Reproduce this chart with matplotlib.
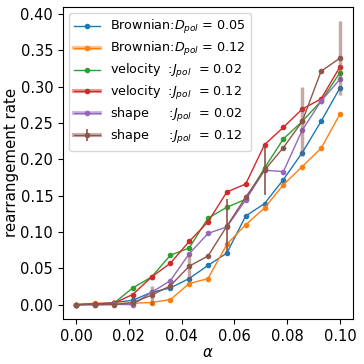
import numpy as np
import matplotlib
matplotlib.use("Agg")
import matplotlib.pyplot as plt
from matplotlib.lines import Line2D
from matplotlib.legend_handler import HandlerTuple

alpha_vals = np.linspace(0, 0.1, 15)

brownian_005 = [0.0, 0.001, 0.003, 0.006, 0.017, 0.023, 0.036, 0.054, 0.071,
                0.122, 0.139, 0.172, 0.209, 0.252, 0.298]
brownian_012 = [0.0, 0.002, 0.002, 0.002, 0.003, 0.007, 0.029, 0.036, 0.083,
                0.110, 0.133, 0.165, 0.190, 0.215, 0.262]
velocity_002 = [0.0, 0.001, 0.002, 0.023, 0.038, 0.068, 0.078, 0.119, 0.134,
                0.145, 0.188, 0.228, 0.252, 0.280, 0.319]
velocity_012 = [0.0, 0.001, 0.002, 0.014, 0.038, 0.057, 0.087, 0.114, 0.155,
                0.166, 0.220, 0.244, 0.269, 0.283, 0.327]
shape_002 = [0.0, 0.0, 0.0005, 0.0, 0.017, 0.033, 0.070, 0.098, 0.107,
             0.144, 0.185, 0.183, 0.240, 0.280, 0.310]
shape_012 = [0.0, 0.0, 0.0, 0.003, 0.013, 0.026, 0.053, 0.067, 0.108,
             0.148, 0.185, 0.216, 0.252, 0.321, 0.339]
# écarts-types de shape 0.12 (barres claires / barres foncées)
shape_012_err_light = [0.0, 0.0, 0.0, 0.0, 0.013, 0.0, 0.017, 0.0, 0.0,
                       0.0, 0.0, 0.0, 0.048, 0.0, 0.051]
shape_012_err_dark = [0.0, 0.0, 0.0, 0.0, 0.0, 0.0, 0.0, 0.0, 0.037,
                      0.0, 0.034, 0.0, 0.0, 0.0, 0.0]

labels = [r"Brownian:$D_{pol}$ = 0.05",
          r"Brownian:$D_{pol}$ = 0.12",
          r"velocity  :$J_{pol}$  = 0.02",
          r"velocity  :$J_{pol}$  = 0.12",
          r"shape     :$J_{pol}$  = 0.02",
          r"shape     :$J_{pol}$  = 0.12"]
series = [brownian_005, brownian_012, velocity_002, velocity_012, shape_002]
colors = ["C0", "C1", "C2", "C3", "C4", "C5"]
heavy = [False, True, False, True, True, True]

fig = plt.figure(figsize=(3.64, 3.64), dpi=100)
ax = fig.add_axes([0.173, 0.124, 0.797, 0.857])

handles = []
for y, c, h in zip(series, colors, heavy):
    ax.plot(alpha_vals, y, ".-", color=c, lw=1, ms=6)
    marker = Line2D([], [], color=c, lw=1, marker=".", ms=6)
    if h:
        handles.append((Line2D([], [], color=c, lw=3, alpha=0.45), marker))
    else:
        handles.append(marker)

ax.errorbar(alpha_vals, shape_012, yerr=shape_012_err_light, fmt=".-",
            color="C5", lw=1, ms=6, ecolor=(0.55, 0.34, 0.29, 0.5), elinewidth=2.5)
ax.errorbar(alpha_vals, shape_012, yerr=shape_012_err_dark, fmt="none",
            ecolor="C5", elinewidth=1.2)
handles.append((Line2D([], [], color="C5", lw=3, alpha=0.45),
                Line2D([], [], color="C5", lw=0, marker="|", ms=9, mew=1.2),
                Line2D([], [], color="C5", lw=1, marker=".", ms=6)))

ax.set_xticks([0.0, 0.02, 0.04, 0.06, 0.08, 0.10])
ax.set_yticks(np.arange(0, 0.41, 0.05))
ax.tick_params(labelsize=10.5)
ax.set_xlabel(r"$\alpha$", fontsize=10.8, labelpad=1)
ax.set_ylabel("rearrangement rate", fontsize=10.8)
ax.yaxis.set_label_coords(-0.15, 0.5)
ax.legend(handles, labels, loc="upper left", fontsize=9.2,
          handler_map={tuple: HandlerTuple(ndivide=1, pad=0)},
          handlelength=2.0, borderaxespad=0.5, labelspacing=0.3)

fig.savefig("out.png", dpi=100)
